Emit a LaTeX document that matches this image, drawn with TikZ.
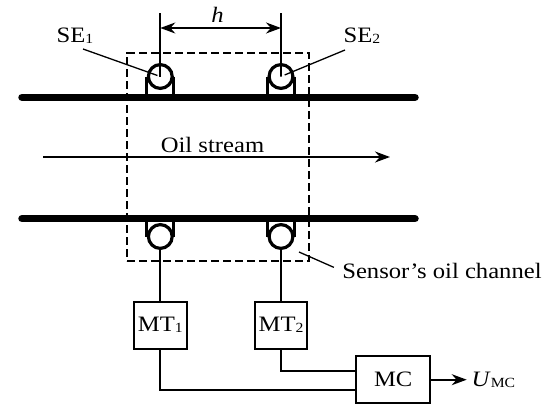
\documentclass[tikz,border=0pt]{standalone}
\usepackage{fontspec}
\setmainfont[FakeStretch=1.12]{Liberation Serif}
\usetikzlibrary{positioning,arrows.meta}
\newcommand{\lowtxt}[1]{\raisebox{-1pt}{\fontsize{14}{14}\selectfont #1}}

\begin{document}
\begin{tikzpicture}[
    x=1pt, y=-1pt,
    font=\fontsize{22}{24}\selectfont,
    sensor/.style={draw, circle, line width=3.2pt, minimum size=23.8pt, inner sep=0pt},
    box/.style={draw, line width=2pt, minimum width=52.5pt, minimum height=46.5pt, inner sep=0pt, align=center},
    txt/.style={inner sep=0pt},
    pipe/.style={line width=7.5pt, line cap=round},
    cradle/.style={line width=3pt},
    wire/.style={line width=1.9pt},
    lead/.style={line width=1.3pt},
    arr/.style={-{Stealth[length=15pt,width=11pt]}, line width=1.6pt},
]
\useasboundingbox (0,0) rectangle (550,418);

\draw[pipe] (22,97.3) -- (415,97.3);
\draw[pipe] (22,218.7) -- (415,218.7);

\node[sensor] (se1) at (160.3,76.5) {};
\node[sensor, right=93.7pt of se1] (se2) {};
\node[sensor] (sb1) at (160.3,236.5) {};
\node[sensor, right=93.7pt of sb1] (sb2) {};

% cradles
\draw[cradle] (se1.west) -- ++(0,19) (se1.east) -- ++(0,19);
\draw[cradle] (se2.west) -- ++(0,19) (se2.east) -- ++(0,19);
\draw[cradle] (sb1.west) -- ++(0,-18) (sb1.east) -- ++(0,-18);
\draw[cradle] (sb2.west) -- ++(0,-18) (sb2.east) -- ++(0,-18);

% sensor channel
\node[draw, line width=2pt, dash pattern=on 8pt off 4pt, minimum width=181.5pt, minimum height=208.5pt, inner sep=0pt] (channel) at (217.8,157) {};

% spacing h
\coordinate (h1) at (160.3,13);
\coordinate (h2) at (281,13);
\draw[wire] (h1) -- (se1.center);
\draw[wire] (h2) -- (se2.center);
\coordinate (d1) at (160.3,28);
\coordinate (d2) at (281,28);
\draw[arr, {Stealth[length=15pt,width=11pt]}-{Stealth[length=15pt,width=11pt]}] (d1) -- node[above=5pt, xshift=-3pt, txt]{\textit{h}} (d2);

\node[txt] (lse1) at (75,36) {SE\lowtxt{1}};
\node[txt] (lse2) at (362,36) {SE\lowtxt{2}};
\coordinate (t1) at (83,49);
\coordinate (t2) at (345,50);
\draw[lead, shorten >=3pt] (t1) -- (se1.center);
\draw[lead, shorten >=4pt] (t2) -- (se2.center);

% stream
\coordinate (s1) at (43,157);
\coordinate (s2) at (390,157);
\draw[arr] (s1) -- (s2);
\node[txt] (oil) at (212.5,145) {Oil stream};

\coordinate (c1) at (299,252);
\node[txt] (lchan) at (442,271) {Sensor’s oil channel};
\draw[lead, shorten >=9pt] (c1) -- (lchan.west);

% electronics
\node[box, below=51pt of sb1] (mt1) {MT\lowtxt{1}};
\node[box, below=51pt of sb2] (mt2) {MT\lowtxt{2}};
\node[box, minimum width=74.5pt, minimum height=47pt] (mc) at (393.2,379.7) {MC};
\node[txt, right=40pt of mc] (umc) {\textit{U}\lowtxt{MC}};

\draw[wire] (sb1) -- (mt1);
\draw[wire] (sb2) -- (mt2);
\draw[wire] (mt1) |- ([yshift=-10.6pt]mc.west);
\draw[wire] (mt2) |- ([yshift=8.7pt]mc.west);
\draw[arr] (mc) -- ++(73.5,0);
\end{tikzpicture}
\end{document}
